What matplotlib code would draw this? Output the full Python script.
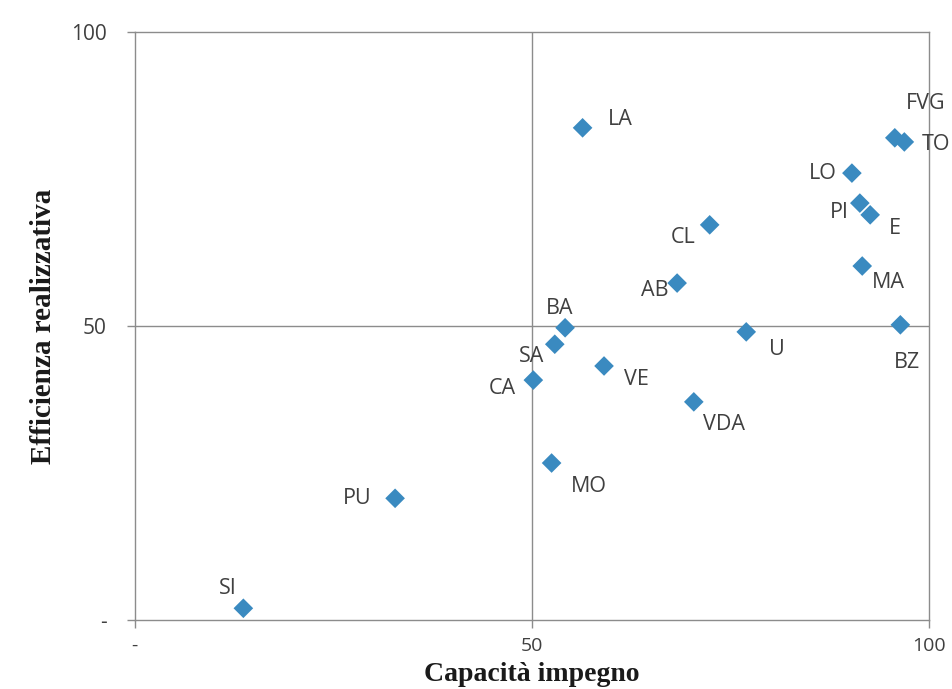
import matplotlib
matplotlib.use('Agg')
import matplotlib.pyplot as plt

# regions: capacita impegno (x) vs efficienza realizzativa (y)
regioni = ['SI', 'PU', 'MO', 'CA', 'SA', 'BA', 'VE', 'VDA', 'U', 'AB',
           'CL', 'LA', 'LO', 'PI', 'E', 'MA', 'FVG', 'TO', 'BZ']
capacita = [13.7, 32.8, 52.5, 50.2, 52.9, 54.2, 59.1, 70.4, 77.0, 68.3,
            72.4, 56.4, 90.3, 91.3, 92.6, 91.6, 95.7, 96.9, 96.4]
efficienza = [2.0, 20.7, 26.7, 40.8, 46.9, 49.7, 43.2, 37.1, 49.0, 57.3,
              67.2, 83.7, 76.0, 70.9, 68.9, 60.2, 82.0, 81.3, 50.2]

# label offsets in points
offs = {'SI': (-11, 14), 'PU': (-27, 0), 'MO': (27, -17), 'CA': (-22, -6),
        'SA': (-17, -9), 'BA': (-4, 14), 'VE': (23, -10), 'VDA': (22, -16),
        'U': (22, -13), 'AB': (-16, -5), 'CL': (-19, -9), 'LA': (27, 6),
        'LO': (-21, 0), 'PI': (-15, -7), 'E': (18, -10), 'MA': (19, -12),
        'FVG': (22, 25), 'TO': (23, -2), 'BZ': (5, -27)}

grey = '#404040'
line = '#8c8c8c'

fig = plt.figure(figsize=(9.52, 6.89), dpi=100)
ax = fig.add_axes([0.1413, 0.1001, 0.8345, 0.8535])

ax.axvline(50, color=line, lw=1, zorder=1)
ax.axhline(50, color=line, lw=1, zorder=1)
ax.scatter(capacita, efficienza, marker='D', s=100, color='#3a8ac0',
           edgecolors='none', zorder=3)

for r, xv, yv in zip(regioni, capacita, efficienza):
    ax.annotate(r, (xv, yv), xytext=offs[r], textcoords='offset points',
                ha='center', va='center', fontsize=15.5, color=grey,
                family='Open Sans')

ax.set_xlim(0, 100)
ax.set_ylim(0, 100)
ax.set_xticks([0, 50, 100])
ax.set_yticks([0, 50, 100])
ax.set_xticklabels(['-', '50', '100'], fontsize=14, color=grey, family='Open Sans')
ax.set_yticklabels(['-', '50', '100'], fontsize=15, color=grey, family='Open Sans')
ax.tick_params(axis='both', direction='out', length=6, color=line, width=1)
ax.tick_params(axis='x', pad=6)
ax.tick_params(axis='y', pad=14)
for s in ax.spines.values():
    s.set_color(line)
    s.set_linewidth(1)

ax.set_xlabel('Capacità impegno', fontsize=20, fontweight='bold',
              family='Liberation Serif', color='#1a1a1a', va='center')
ax.xaxis.set_label_coords(0.5, -0.092)
ax.set_ylabel('Efficienza realizzativa', fontsize=21, fontweight='bold',
              family='Liberation Serif', labelpad=10, color='#1a1a1a')

fig.savefig('out.png', dpi=100)
